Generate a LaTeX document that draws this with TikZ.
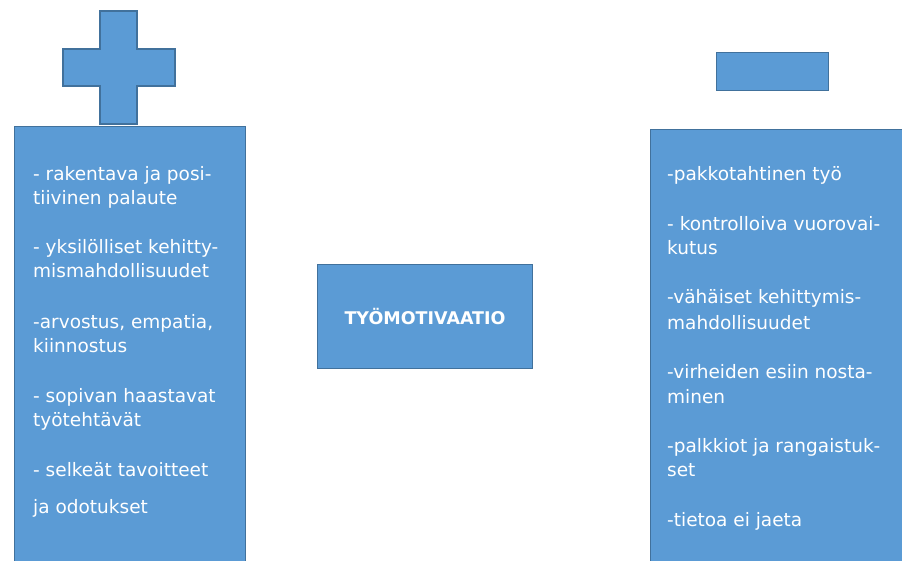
\documentclass[tikz,border=0pt]{standalone}
\usepackage{fontspec}
\setmainfont{DejaVu Sans}
\definecolor{boxfill}{HTML}{5B9BD5}
\definecolor{boxline}{HTML}{41719C}
\begin{document}
\begin{tikzpicture}[x=1pt,y=-1pt,
  shapebox/.style={fill=boxfill,draw=boxline,line width=1.1pt},
  itemtext/.style={anchor=base west,inner sep=0pt,text=white,font=\fontsize{18.5}{22}\selectfont}]
\useasboundingbox (0,0) rectangle (902,561);
\clip (0,0) rectangle (902,561);
% plus sign
\draw[shapebox] (100,11) -- (137,11) -- (137,49) -- (175,49) -- (175,86) -- (137,86) -- (137,124) -- (100,124) -- (100,86) -- (63,86) -- (63,49) -- (100,49) -- cycle;
% minus sign
\node[shapebox,minimum width=112pt,minimum height=38pt,inner sep=0pt,anchor=north west] (minus) at (716,52) {};
% boxes
\node[shapebox,minimum width=231pt,minimum height=450pt,inner sep=0pt,anchor=north west] (left) at (14,126) {};
\node[shapebox,minimum width=260pt,minimum height=450pt,inner sep=0pt,anchor=north west] (right) at (650,129) {};
\node[shapebox,minimum width=215pt,minimum height=104pt,inner sep=0pt,anchor=north west,text=white,font=\fontsize{17.5}{22}\selectfont\bfseries] (center) at (317,264) {TYÖMOTIVAATIO};
% left texts
\foreach \t/\y [count=\i] in {{- rakentava ja posi-}/181,{tiivinen palaute}/205,{- yksilölliset kehitty-}/254,{mismahdollisuudet}/278,{-arvostus, empatia,}/328,{kiinnostus}/352,{- sopivan haastavat}/402,{työtehtävät}/426,{- selkeät tavoitteet}/476,{ja odotukset}/513}
  \node[itemtext] (l\i) at (33,\y) {\t};
% right texts
\foreach \t/\y [count=\i] in {{-pakkotahtinen työ}/181,{- kontrolloiva vuorovai-}/231,{kutus}/255,{-vähäiset kehittymis-}/304,{mahdollisuudet}/329,{-virheiden esiin nosta-}/378,{minen}/403,{-palkkiot ja rangaistuk-}/452,{set}/476,{-tietoa ei jaeta}/526}
  \node[itemtext] (r\i) at (667,\y) {\t};
\end{tikzpicture}
\end{document}
